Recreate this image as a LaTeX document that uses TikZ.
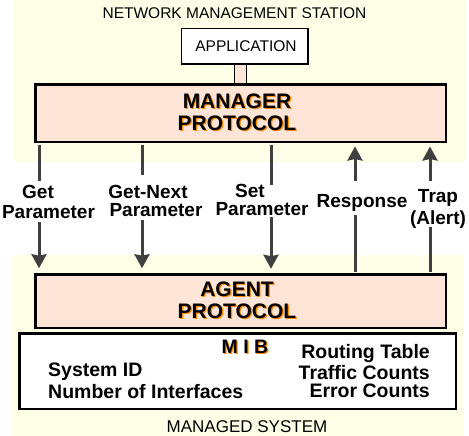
\documentclass[tikz,border=0pt]{standalone}
\usepackage{fontspec}
\setmainfont{Liberation Sans}
\usetikzlibrary{arrows.meta}
\definecolor{cream}{RGB}{255,255,232}
\definecolor{pinkfill}{RGB}{255,228,216}
\definecolor{shadoworange}{RGB}{255,136,0}
\definecolor{arrowgray}{RGB}{64,64,64}
\newcommand{\shd}[1]{\leavevmode\rlap{\hspace{1.2pt}\raisebox{-1.4pt}{\textcolor{shadoworange}{#1}}}#1}
\begin{document}
\begin{tikzpicture}[x=1pt,y=-1pt,
  pinkbox/.style={draw=black, line width=2.5pt, fill=pinkfill, inner sep=0pt, anchor=north west},
  whitebox/.style={draw=black, line width=2.5pt, fill=white, inner sep=0pt, anchor=north west},
  lbl/.style={font=\fontsize{19}{19}\selectfont\bfseries, inner sep=0pt, anchor=base},
  mib/.style={font=\fontsize{19.5}{19.5}\selectfont\bfseries, inner sep=0pt},
  title/.style={inner sep=0pt, align=center},
  plain/.style={inner sep=0pt, anchor=base},
  conn/.style={draw=arrowgray, line width=3pt},
  tip/.style={-{Stealth[inset=1.5pt,length=14pt,width=15pt]}}
]
\useasboundingbox (0,0) rectangle (469,436);
\fill[white] (0,0) rectangle (469,436);
\fill[cream] (14,0) rectangle (465,162);
\fill[cream] (12,255) rectangle (463,436);

% title
\node[plain, font=\fontsize{15.5}{15.5}\selectfont] (nms) at (234.5,19) {NETWORK MANAGEMENT STATION};

% connector bar between application and manager
\node[draw=black, line width=1pt, fill=pinkfill, minimum width=12pt, minimum height=20pt, inner sep=0pt] (bar) at (240.5,73.25) {};

% application box
\node[whitebox, line width=1.5pt, minimum width=126.5pt, minimum height=35.5pt] (app) at (180.75,27.75) {};
\node[plain, font=\fontsize{15.5}{15.5}\selectfont] (apptxt) at (246,52) {APPLICATION};

% manager box
\node[pinkbox, minimum width=410.5pt, minimum height=57.5pt] (manager) at (34.25,83.25) {};
\node[title, font=\fontsize{21}{22}\selectfont\bfseries] (mgrtxt) at (237,112.5) {\shd{MANAGER}\\\shd{PROTOCOL}};

% agent box
\node[pinkbox, minimum width=410.5pt, minimum height=53.5pt] (agent) at (34.25,273.25) {};
\node[title, font=\fontsize{21}{22}\selectfont\bfseries] (agtxt) at (237,300.5) {\shd{AGENT}\\\shd{PROTOCOL}};

% MIB box
\node[whitebox, minimum width=436.5pt, minimum height=75.5pt] (mibbox) at (18.25,332.25) {};
\node[mib, anchor=base] (mibt) at (245,353) {\shd{M I B}};
\node[mib, anchor=base west] (sysid) at (48,376) {System ID};
\node[mib, anchor=base west] (nif) at (48,398) {Number of Interfaces};
\node[mib, anchor=base east] (rt) at (430,358) {Routing Table};
\node[mib, anchor=base east] (tc) at (430,379) {Traffic Counts};
\node[mib, anchor=base east] (ec) at (430,397) {Error Counts};

\node[plain, font=\fontsize{17}{17}\selectfont] (ms) at (247,432) {MANAGED SYSTEM};

% labels
\node[lbl] (get1) at (38,198) {Get};
\node[lbl] (get2) at (48.5,218) {Parameter};
\node[lbl] (gn1) at (148,198) {Get-Next};
\node[lbl] (gn2) at (156,216) {Parameter};
\node[lbl] (set1) at (250,197) {Set};
\node[lbl] (set2) at (262,215) {Parameter};
\node[lbl] (resp) at (362,207) {Response};
\node[lbl] (trap1) at (438,202) {Trap};
\node[lbl] (trap2) at (438,224) {(Alert)};

% connector break points
\coordinate (ga) at (39,181);
\coordinate (gb) at (39,222);
\coordinate (na) at (142,175);
\coordinate (nb) at (142,220);
\coordinate (sa) at (271,185);
\coordinate (sb) at (271,217);
\coordinate (ra) at (355,181);
\coordinate (rb) at (355,215);
\coordinate (ta) at (430,181);
\coordinate (tb) at (430,227);

% down arrows
\draw[conn, shorten <=1.25pt] (manager.south -| ga) -- (ga);
\draw[conn, tip, shorten >=5pt] (gb) -- (agent.north -| gb);
\draw[conn, shorten <=1.25pt] (manager.south -| na) -- (na);
\draw[conn, tip, shorten >=5pt] (nb) -- (agent.north -| nb);
\draw[conn, shorten <=1.25pt] (manager.south -| sa) -- (sa);
\draw[conn, tip, shorten >=4.5pt] (sb) -- (agent.north -| sb);

% up arrows
\draw[conn, shorten <=1.25pt] (agent.north -| rb) -- (rb);
\draw[conn, tip, shorten >=3.25pt] (ra) -- (manager.south -| ra);
\draw[conn, shorten <=1.25pt] (agent.north -| tb) -- (tb);
\draw[conn, tip, shorten >=3.25pt] (ta) -- (manager.south -| ta);
\end{tikzpicture}
\end{document}
